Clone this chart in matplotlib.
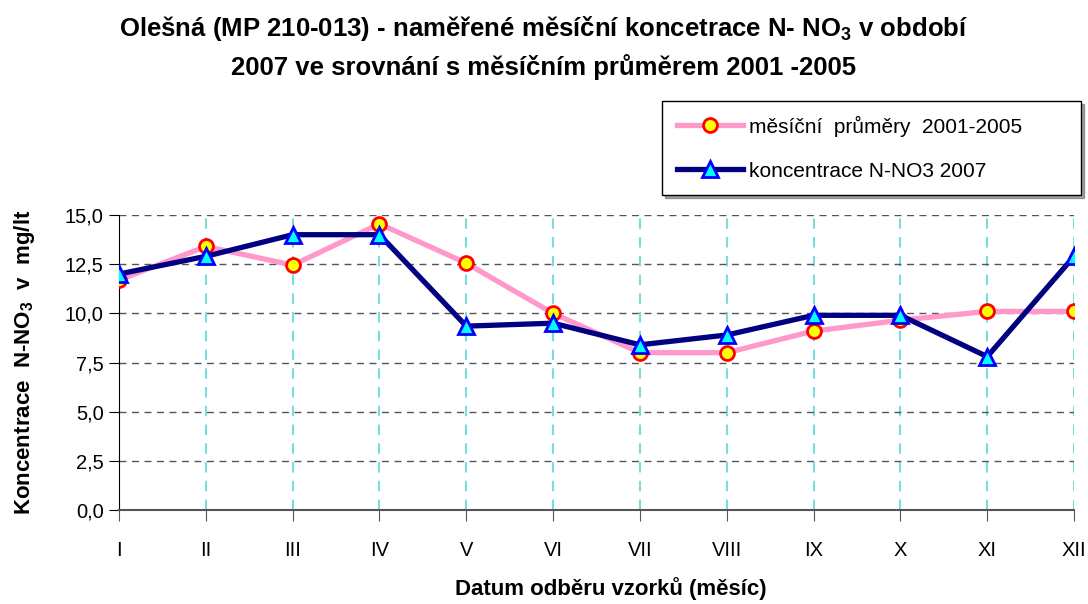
import matplotlib.pyplot as plt
import numpy as np

plt.rcParams['font.family'] = ['Liberation Sans', 'DejaVu Sans']
plt.rcParams['mathtext.fontset'] = 'custom'
plt.rcParams['mathtext.rm'] = 'Liberation Sans'
plt.rcParams['mathtext.bf'] = 'Liberation Sans:bold'

months = ['I', 'II', 'III', 'IV', 'V', 'VI', 'VII', 'VIII', 'IX', 'X', 'XI', 'XII']
prumer_2001_2005 = [11.7, 13.4, 12.45, 14.55, 12.55, 10.0, 8.0, 8.0, 9.1, 9.65, 10.1, 10.1]
konc_2007 = [12.0, 12.9, 14.0, 14.0, 9.35, 9.5, 8.4, 8.9, 9.9, 9.9, 7.8, 12.9]
y_ticks = [0, 2.5, 5, 7.5, 10, 12.5, 15]
y_labels = ['0,0', '2,5', '5,0', '7,5', '10,0', '12,5', '15,0']

x = np.arange(len(months))

fig = plt.figure(figsize=(10.88, 6.04), dpi=100)
ax = fig.add_axes([0.1094, 0.1556, 0.8778, 0.4884])

ax.plot(x, prumer_2001_2005, color='#FF99CC', linewidth=3.8, marker='o',
        markersize=10, markerfacecolor='#FFFF00', markeredgecolor='#FF0000',
        markeredgewidth=2, label='měsíční  průměry  2001-2005', zorder=3)
ax.plot(x, konc_2007, color='#000080', linewidth=3.8, marker='^',
        markersize=12, markerfacecolor='#00FFFF', markeredgecolor='#0000FF',
        markeredgewidth=2, label='koncentrace N-NO3 2007', zorder=4)

ax.set_xlim(0, 11)
ax.set_ylim(0, 15)
ax.set_xticks(x)
ax.set_xticklabels(months, fontsize=14.5)
ax.set_yticks(y_ticks)
ax.set_yticklabels(y_labels, fontsize=14.5)
ax.tick_params(axis='x', length=8, pad=14, color='#555555')
ax.tick_params(axis='y', length=7, pad=4)

ax.grid(axis='y', linestyle=(0, (5, 4)), color='#555555', linewidth=1)
ax.grid(axis='x', linestyle=(0, (5, 4)), color='#77DDDD', linewidth=1.5)
ax.set_axisbelow(True)

ax.spines['top'].set_visible(False)
ax.spines['right'].set_visible(False)
ax.spines['bottom'].set_color('#555555')
ax.spines['bottom'].set_linewidth(1.5)
ax.spines['left'].set_color('black')

ax.set_xlabel('Datum odběru vzorků (měsíc)', fontsize=16, fontweight='bold')
ax.xaxis.set_label_coords(0.515, -0.228)
ax.set_ylabel(r'Koncentrace  N-NO$_{\mathbf{3}}$  v  mg/lt', fontsize=16, fontweight='bold', labelpad=20)

fig.suptitle('Olešná (MP 210-013) - naměřené měsíční koncetrace N- NO$_{\\mathbf{3}}$ v období\n'
             '2007 ve srovnání s měsíčním průměrem 2001 -2005',
             fontsize=18.5, fontweight='bold', y=0.977, linespacing=1.55)

leg = ax.legend(loc='upper left', bbox_to_anchor=(0.5686, 1.3864, 0.4387, 0), mode='expand',
                fontsize=15, frameon=True, fancybox=False, shadow=True, edgecolor='black',
                borderpad=0.7, labelspacing=1.2, handlelength=3.2, handletextpad=0.25,
                borderaxespad=0)
leg.get_frame().set_linewidth(1)

plt.savefig('out.png', dpi=100)
plt.close()
